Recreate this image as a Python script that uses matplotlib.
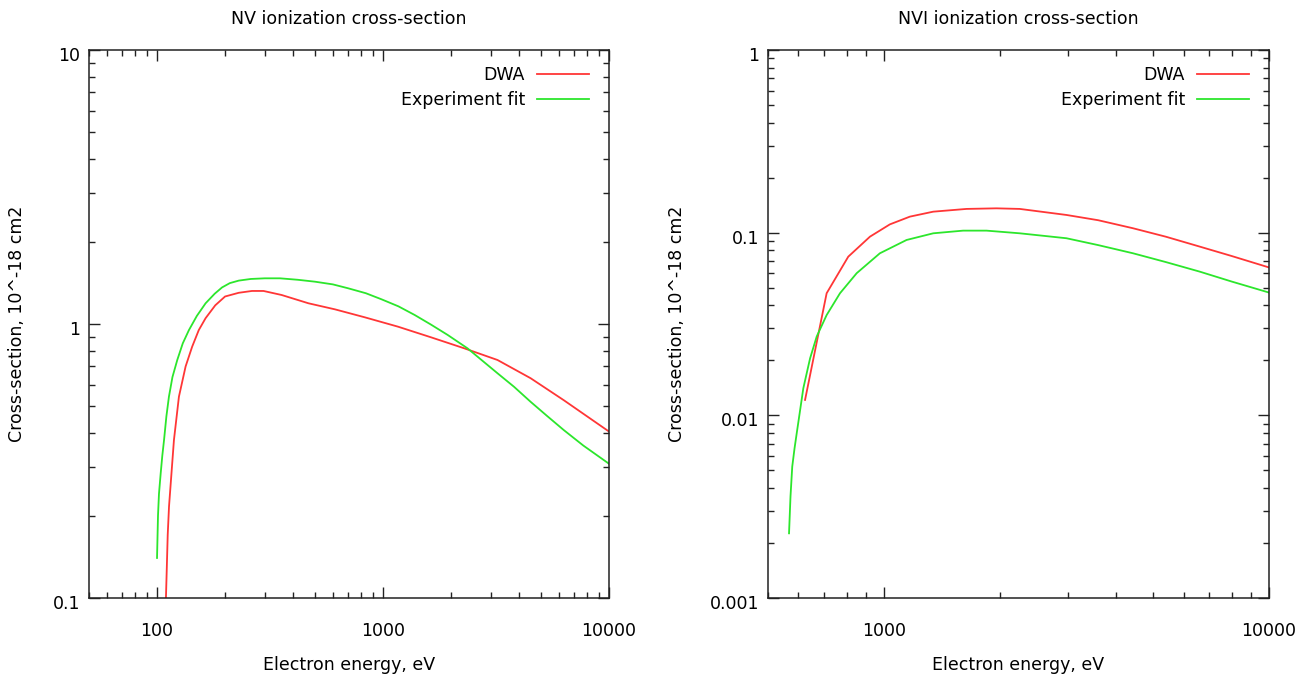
import matplotlib
matplotlib.use("Agg")
import matplotlib.pyplot as plt
import matplotlib.transforms as mtrans
from matplotlib.ticker import LogLocator, NullFormatter

# NV panel, energies in eV, cross-sections in 10^-18 cm2
nv_dwa_e = [108, 109.5, 110.5, 111.5, 113, 118.8, 125, 133.8, 143, 153, 164, 181, 200, 230, 263,
            296, 356, 468, 613, 830, 1164, 1632, 2290, 3211, 4500, 6310, 10000]
nv_dwa_s = [0.085, 0.1, 0.13, 0.17, 0.216, 0.377, 0.543, 0.70, 0.826, 0.95, 1.05, 1.17, 1.26, 1.30,
            1.32, 1.32, 1.276, 1.19, 1.131, 1.058, 0.978, 0.894, 0.815, 0.739, 0.634, 0.527, 0.405]
nv_fit_e = [100, 101, 102, 103.8, 105.5, 107.4, 110, 112.9, 117, 122.9, 130, 138.4, 150, 164, 180,
            194, 210, 230, 260, 300, 350, 420, 500, 600, 701, 840, 984, 1170, 1380, 1630, 1933,
            2366, 2750, 3211, 3800, 4500, 5300, 6310, 7700, 10000]
nv_fit_s = [0.14, 0.20, 0.24, 0.285, 0.33, 0.377, 0.46, 0.543, 0.64, 0.739, 0.85, 0.95, 1.07, 1.19,
            1.29, 1.36, 1.41, 1.44, 1.46, 1.468, 1.468, 1.45, 1.427, 1.395, 1.35, 1.295, 1.231,
            1.16, 1.079, 0.995, 0.912, 0.815, 0.735, 0.661, 0.59, 0.520, 0.463, 0.410, 0.36, 0.309]

# NVI panel
nvi_dwa_e = [624, 710, 808, 920, 1036, 1168, 1343, 1639, 1959, 2253, 2979, 3600, 4436, 5400,
             6607, 8000, 10000]
nvi_dwa_s = [0.01214, 0.0466, 0.0739, 0.0951, 0.111, 0.1224, 0.1303, 0.1349, 0.1359, 0.1349,
             0.125, 0.117, 0.1057, 0.095, 0.0839, 0.0745, 0.0645]
nvi_fit_e = [567, 572, 578, 586, 593.7, 617.6, 643, 669, 710, 769, 849.7, 976, 1145, 1343, 1606,
             1846, 2253, 2979, 3600, 4436, 5400, 6607, 8000, 10000]
nvi_fit_s = [0.00226, 0.0036, 0.00524, 0.0066, 0.00798, 0.01407, 0.0205, 0.0270, 0.0354, 0.0466,
             0.060, 0.0771, 0.0912, 0.0992, 0.1026, 0.1026, 0.0992, 0.0932, 0.0855, 0.0771, 0.069,
             0.0612, 0.054, 0.047]

titles = ["NV ionization cross-section", "NVI ionization cross-section"]
xlabel = "Electron energy, eV"
ylabel = "Cross-section, 10^-18 cm2"
series_names = ["DWA", "Experiment fit"]

nv_xticks = [100, 1000, 10000]
nv_xticklabels = ["100", "1000", "10000"]
nv_yticks = [0.1, 1, 10]
nv_yticklabels = ["0.1", "1", "10"]
nvi_xticks = [1000, 10000]
nvi_xticklabels = ["1000", "10000"]
nvi_yticks = [0.001, 0.01, 0.1, 1]
nvi_yticklabels = ["0.001", "0.01", "0.1", "1"]

plt.rcParams["font.family"] = ["DejaVu Sans"]
plt.rcParams["font.size"] = 12.5

fig = plt.figure(figsize=(13.11, 6.8), dpi=100)
ax1 = fig.add_axes([89 / 1311, 82 / 680, 520 / 1311, 548 / 680])
ax2 = fig.add_axes([768 / 1311, 82 / 680, 501 / 1311, 548 / 680])

panels = [
    (ax1, nv_dwa_e, nv_dwa_s, nv_fit_e, nv_fit_s, (50, 10000), (0.1, 10),
     nv_xticks, nv_xticklabels, nv_yticks, nv_yticklabels, 520),
    (ax2, nvi_dwa_e, nvi_dwa_s, nvi_fit_e, nvi_fit_s, (500, 10000), (0.001, 1),
     nvi_xticks, nvi_xticklabels, nvi_yticks, nvi_yticklabels, 501),
]

for i, (ax, de, ds, fe, fs, xl, yl, xt, xtl, yt, ytl, wpx) in enumerate(panels):
    ax.plot(de, ds, color="#ff3636", lw=1.3, label=series_names[0])
    ax.plot(fe, fs, color="#2ce62c", lw=1.3, label=series_names[1])
    ax.set_xscale("log")
    ax.set_yscale("log")
    ax.set_xlim(*xl)
    ax.set_ylim(*yl)
    ax.set_xticks(xt)
    ax.set_xticklabels(xtl)
    ax.set_yticks(yt)
    ax.set_yticklabels(ytl)
    ax.xaxis.set_minor_locator(LogLocator(base=10, subs=range(2, 10)))
    ax.yaxis.set_minor_locator(LogLocator(base=10, subs=range(2, 10)))
    ax.xaxis.set_minor_formatter(NullFormatter())
    ax.yaxis.set_minor_formatter(NullFormatter())
    ax.tick_params(which="both", direction="in", top=True, right=True, color="#222222")
    ax.tick_params(which="major", length=8, width=1)
    ax.tick_params(which="minor", length=4.5, width=1)
    ax.tick_params(axis="x", which="major", pad=17)
    ax.tick_params(axis="y", which="major", pad=6.5)
    for sp in ax.spines.values():
        sp.set_color("#222222")
        sp.set_linewidth(1.1)
    # gnuplot puts the y labels a little lower than the tick
    off = mtrans.ScaledTranslation(0, -4 / 100, fig.dpi_scale_trans)
    for lab in ax.get_yticklabels():
        lab.set_transform(lab.get_transform() + off)
    ax.set_title(titles[i], pad=19, fontsize=12.5)
    ax.set_xlabel(xlabel, labelpad=12)
    ax.set_ylabel(ylabel)
    ax.legend(loc="upper right", bbox_to_anchor=(1 - 20 / wpx, 1 - 16 / 548), frameon=False,
              markerfirst=False, handlelength=3.0, handletextpad=0.7, borderpad=0,
              borderaxespad=0, labelspacing=0.4, fontsize=12.5)

ax1.yaxis.set_label_coords(-63 / 520, 0.5)
ax2.yaxis.set_label_coords(-82 / 501, 0.5)

fig.savefig("out.png", dpi=100)
